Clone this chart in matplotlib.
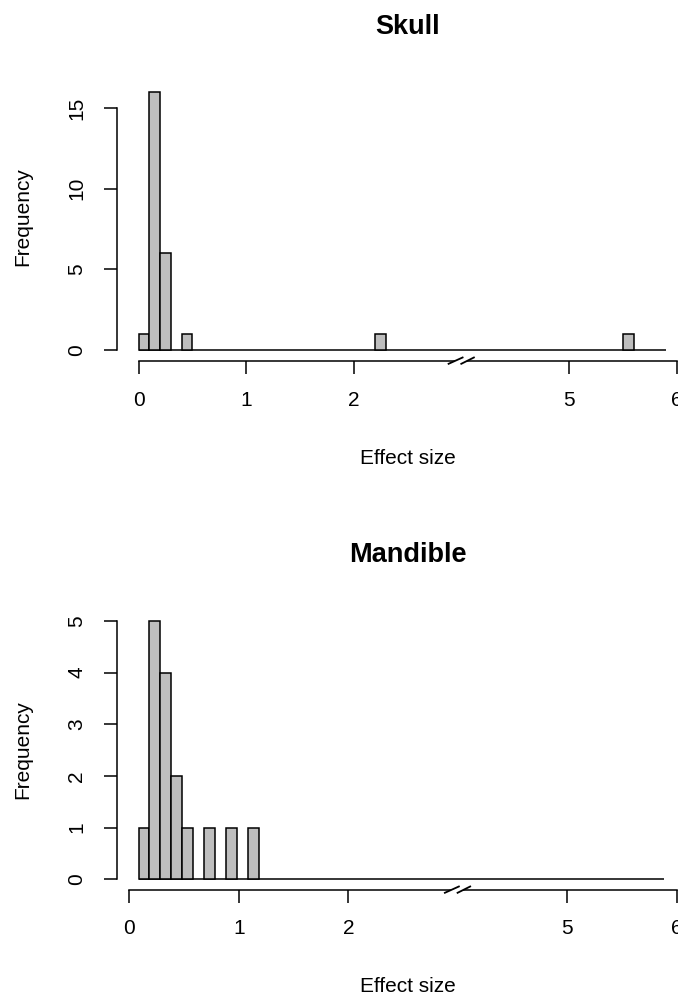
import matplotlib
matplotlib.use("Agg")
import matplotlib.pyplot as plt
from matplotlib.lines import Line2D
from matplotlib.patches import Polygon

# ---- data (real effect-size values) ----
bin_width = 0.1
gap_start, gap_end = 3.0, 4.0          # removed portion of the x axis

skull_bin_left = [0.0, 0.1, 0.2, 0.4, 2.2, 5.5]
skull_counts = [1, 16, 6, 1, 1, 1]
skull_range = [0.0, 5.9]
skull_yticks = [0, 5, 10, 15]

mand_bin_left = [0.085, 0.185, 0.285, 0.385, 0.485, 0.685, 0.885, 1.085]
mand_counts = [1, 5, 4, 2, 1, 1, 1, 1]
mand_range = [0.085, 5.885]
mand_yticks = [0, 1, 2, 3, 4, 5]

xtick_values = [0, 1, 2, 5, 6]
xtick_labels = ["0", "1", "2", "5", "6"]

plt.rcParams['font.family'] = ['Liberation Sans', 'DejaVu Sans']

W, H = 678, 998
fig = plt.figure(figsize=(W / 100, H / 100), dpi=100)
FS = 15


def to_disp(x):
    return x - (gap_end - gap_start) if x >= gap_end else x


def panel(top_px, bottom_px, bin_left, counts, rng, yticks, title, ylab_y):
    left_px, right_px = 117, 698.5
    ax = fig.add_axes([left_px / W, 1 - bottom_px / H,
                       (right_px - left_px) / W, (bottom_px - top_px) / H])
    lw = 1.1
    dl = [to_disp(v) for v in bin_left]
    ax.bar(dl, counts, width=bin_width, align='edge', color='#BEBEBE',
           edgecolor='black', linewidth=lw, zorder=3)
    ax.plot([to_disp(rng[0]), to_disp(rng[1])], [0, 0], color='black',
            lw=lw, solid_capstyle='butt', zorder=2)
    x0 = to_disp(rng[0])
    x1 = to_disp(6)
    d = x1 - x0
    ax.set_xlim(x0 - 0.04 * d, x1 + 0.04 * d)
    ymax = max(counts)
    ax.set_ylim(-0.04 * ymax, ymax * 1.04)
    for s in ['top', 'right']:
        ax.spines[s].set_visible(False)
    ax.spines['left'].set_bounds(yticks[0], yticks[-1])
    ax.spines['bottom'].set_bounds(0, to_disp(6))
    for s in ['left', 'bottom']:
        ax.spines[s].set_linewidth(lw)
    ax.set_yticks(yticks)
    ax.set_yticklabels([str(v) for v in yticks], rotation=90, va='center')
    ax.set_xticks([to_disp(v) for v in xtick_values])
    ax.set_xticklabels(xtick_labels)
    ax.tick_params(axis='both', length=9.6, width=lw, labelsize=FS,
                   direction='out')
    ax.tick_params(axis='y', pad=12.5)
    ax.tick_params(axis='x', pad=12.0)
    ax.patch.set_visible(False)

    # axis break symbol
    fig.canvas.draw()
    xc, _ = ax.transData.transform((gap_start, 0))
    yb = ax.transAxes.transform((0, 0))[1]
    a1 = (xc - 13, yb - 3.3); b1 = (xc + 1, yb + 3.0)
    a2 = (xc - 0.3, yb - 3.3); b2 = (xc + 12.3, yb + 3.0)
    fig.patches.append(Polygon([a1, b1, b2, a2], closed=True, transform=None,
                               facecolor='white', edgecolor='none',
                               zorder=10))
    for a, b in [(a1, b1), (a2, b2)]:
        fig.lines.append(Line2D([a[0], b[0]], [a[1], b[1]], transform=None,
                                color='black', lw=1.3, zorder=11))

    cx = (left_px + right_px) / 2
    fig.text(cx / W, 1 - (top_px - 55) / H, title, ha='center', va='center',
             fontsize=19.5, fontweight='bold')
    fig.text(cx / W, 1 - (bottom_px + 97.5) / H, "Effect size", ha='center',
             va='center', fontsize=FS)
    fig.text(23 / W, 1 - ylab_y / H, "Frequency",
             ha='center', va='center', rotation=90, fontsize=FS)
    return ax


panel(81.5, 360.5, skull_bin_left, skull_counts, skull_range,
      skull_yticks, "Skull", 217)
panel(610.5, 889.5, mand_bin_left, mand_counts, mand_range,
      mand_yticks, "Mandible", 750)

fig.savefig("out.png", dpi=100)
